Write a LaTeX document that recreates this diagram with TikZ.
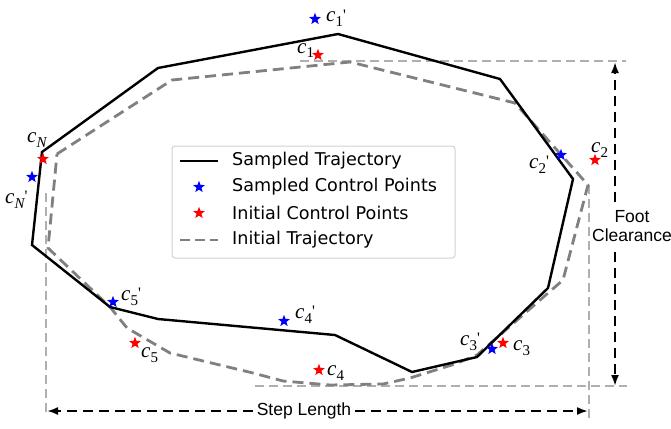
\documentclass[tikz,border=0pt]{standalone}
\usepackage{fontspec}
\setmainfont{Liberation Sans}
\newfontfamily\legfont{DejaVu Sans}
\newfontfamily\lblfont{Liberation Serif}
\newcommand\clab[2]{{\lblfont\itshape c}\raisebox{-5pt}{\lblfont\fontsize{15}{15}\selectfont #1}{\lblfont\fontsize{16}{16}\selectfont\raisebox{1.5pt}{#2}}}
\usetikzlibrary{shapes.geometric,arrows.meta}
\definecolor{trajgray}{RGB}{128,128,128}
\definecolor{lightg}{RGB}{175,175,175}
\definecolor{legborder}{RGB}{210,210,210}
\tikzset{
  sampled/.style={draw=black,line width=2.4pt,line join=miter},
  initial/.style={draw=trajgray,line width=2.8pt,dash pattern=on 11pt off 6pt,line join=round},
  guide/.style={draw=lightg,line width=1.6pt,dash pattern=on 9pt off 5pt},
  dimarrow/.style={draw=black,line width=1.9pt,dash pattern=on 10pt off 6pt,-{Latex[length=11pt,width=8pt]}},
  starpt/.style={star,star points=5,star point ratio=2.4,minimum size=12.5pt,inner sep=0pt,draw=none},
  bluestar/.style={starpt,fill=blue},
  redstar/.style={starpt,fill=red},
  lbl/.style={inner sep=0pt,anchor=base west,font=\fontsize{21}{22}\selectfont},
  dimtext/.style={inner sep=0pt,font=\fontsize{17.5}{20}\selectfont,align=center},
  legtext/.style={inner sep=0pt,anchor=west,font=\legfont\fontsize{17.6}{20}\selectfont},
}
\begin{document}
\begin{tikzpicture}[x=1pt,y=-1pt]
\useasboundingbox (0,0) rectangle (671,428);
% guide lines
\draw[guide] (300,61) -- (626,61);
\draw[guide] (255,386) -- (627,386);
\draw[guide] (46,193) -- (46,414);
\draw[guide] (589,185) -- (589,418);
% initial trajectory
\draw[initial] (57,154) -- (172,80) -- (350,62) -- (515,103) -- (588,185) -- (563,280) -- (477,355) -- (455,364) -- (410,378) -- (383,384) -- (330,385) -- (283,381) -- (253,373) -- (170,353) -- (127,328) -- (110,307) -- (48,248) -- cycle;
% sampled trajectory
\draw[sampled] (42,152) -- (158,68) -- (338,34) -- (500,79) -- (573,179) -- (548,288) -- (477,357) -- (412,372) -- (335,335) -- (158,319) -- (110,307) -- (32,245) -- cycle;
% stars
\node[bluestar] (s1) at (315,19) {};
\node[redstar]  (i1) at (318,55) {};
\node[redstar]  (iN) at (43,159) {};
\node[bluestar] (sN) at (32,177) {};
\node[bluestar] (s2) at (561,155) {};
\node[redstar]  (i2) at (595,160) {};
\node[redstar]  (i3) at (503,343) {};
\node[bluestar] (s3) at (492,349) {};
\node[redstar]  (i4) at (319,370) {};
\node[bluestar] (s4) at (284,321) {};
\node[redstar]  (i5) at (135,343) {};
\node[bluestar] (s5) at (113,302) {};
% labels
\node[lbl] (l1s) at (326,22) {\clab{1}{'}};
\node[lbl] (l1i) at (297,53) {\clab{1}{}};
\node[lbl] (lNi) at (27,142) {\clab{\itshape N}{}};
\node[lbl] (lNs) at (5,203) {\clab{\itshape N}{'}};
\node[lbl] (l2s) at (529,168) {\clab{2}{'}};
\node[lbl] (l2i) at (591,152) {\clab{2}{}};
\node[lbl] (l3s) at (460,345) {\clab{3}{'}};
\node[lbl] (l3i) at (513,350) {\clab{3}{}};
\node[lbl] (l4s) at (295,318) {\clab{4}{'}};
\node[lbl] (l4i) at (327,375) {\clab{4}{}};
\node[lbl] (l5s) at (121,300) {\clab{5}{'}};
\node[lbl] (l5i) at (141,357) {\clab{5}{}};
% dimension arrows
\node[dimtext] (step) at (304,411) {Step Length};
\coordinate (stepL) at (47,411);
\coordinate (stepR) at (588,411);
\draw[dimarrow] (step.west) ++(-4,0) -- (stepL);
\draw[dimarrow] (step.east) ++(4,0) -- (stepR);
\node[dimtext] (foot) at (632,226) {Foot\\[-1pt]Clearance};
\coordinate (footT) at (615,62);
\coordinate (footB) at (615,386);
\coordinate (footTs) at (615,202);
\coordinate (footBs) at (615,252);
\draw[dimarrow] (footTs) -- (footT);
\draw[dimarrow] (footBs) -- (footB);
% legend
\node[draw=legborder,line width=1pt,rounded corners=3pt,fill=white,minimum width=283pt,minimum height=112pt,inner sep=0pt] (legend) at (313.5,202) {};
\coordinate (la1) at (180,161);
\coordinate (lb1) at (218,161);
\draw[sampled] (la1) -- (lb1);
\node[bluestar] (lgs) at (199,187) {};
\node[redstar] (lgi) at (199,213) {};
\coordinate (la4) at (180,240);
\coordinate (lb4) at (218,240);
\draw[initial,dash pattern=on 10pt off 5pt] (la4) -- (lb4);
\node[legtext] (t1) at (232,161) {Sampled Trajectory};
\node[legtext] (t2) at (232,187) {Sampled Control Points};
\node[legtext] (t3) at (232,213) {Initial Control Points};
\node[legtext] (t4) at (232,240) {Initial Trajectory};
\end{tikzpicture}
\end{document}
